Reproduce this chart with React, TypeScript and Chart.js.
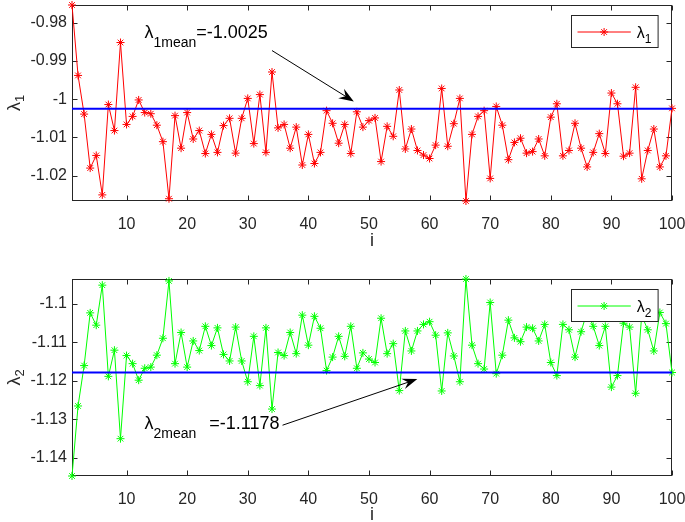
import React, { useEffect, useRef } from "react";
import { Chart, registerables } from "chart.js";

Chart.register(...registerables);

// ---------- data ----------
const indices: number[] = Array.from({ length: 100 }, (_, k) => k + 1);

const lambda1: number[] = [
  -0.9754, -0.9938, -1.0039, -1.018, -1.0147, -1.025, -1.0014, -1.0082, -0.9852, -1.0066,
  -1.0045, -1.0002, -1.0035, -1.0038, -1.0068, -1.0111, -1.026, -1.0043, -1.0128, -1.0035,
  -1.0104, -1.0082, -1.0142, -1.0092, -1.0139, -1.0069, -1.005, -1.0141, -1.005, -0.9998,
  -1.0116, -0.9988, -1.0139, -0.9929, -1.0075, -1.0066, -1.0128, -1.0073, -1.0172, -1.0092,
  -1.0168, -1.0139, -1.003, -1.0063, -1.0115, -1.0066, -1.0142, -1.0033, -1.0073, -1.0056,
  -1.0049, -1.0163, -1.0071, -1.0097, -0.9976, -1.013, -1.0078, -1.0134, -1.0146, -1.0155,
  -1.012, -0.9972, -1.0123, -1.0064, -0.9998, -1.0266, -1.0092, -1.0045, -1.003, -1.0207,
  -1.0019, -1.0068, -1.0158, -1.0113, -1.0102, -1.0141, -1.0137, -1.0104, -1.0148, -1.0047,
  -1.0012, -1.0148, -1.0134, -1.0063, -1.0128, -1.0177, -1.0139, -1.009, -1.0142, -0.9984,
  -1.0012, -1.0149, -1.0141, -0.9969, -1.0208, -1.0134, -1.0078, -1.0177, -1.0148, -1.0024,
];

const lambda2: number[] = [
  -1.1447, -1.1265, -1.116, -1.1023, -1.1055, -1.0951, -1.1188, -1.112, -1.135, -1.1134,
  -1.1155, -1.1198, -1.1167, -1.1164, -1.1133, -1.1089, -1.094, -1.1155, -1.1074, -1.1164,
  -1.1096, -1.1121, -1.1058, -1.1108, -1.1062, -1.1131, -1.1148, -1.106, -1.1148, -1.1202,
  -1.1084, -1.1212, -1.1062, -1.1273, -1.1126, -1.1134, -1.1074, -1.1129, -1.1029, -1.1107,
  -1.1032, -1.1063, -1.1173, -1.1138, -1.1084, -1.1136, -1.1058, -1.1167, -1.1127, -1.1143,
  -1.1152, -1.1037, -1.1129, -1.1103, -1.1225, -1.107, -1.1122, -1.107, -1.1053, -1.1046,
  -1.1081, -1.1226, -1.1075, -1.1135, -1.1202, -1.0935, -1.1107, -1.1155, -1.1169, -1.0996,
  -1.1181, -1.1133, -1.1042, -1.1088, -1.1098, -1.106, -1.1063, -1.1096, -1.1053, -1.1152,
  -1.1186, -1.1053, -1.1067, -1.1138, -1.1072, -1.102, -1.1058, -1.1108, -1.1058, -1.1216,
  -1.1186, -1.105, -1.106, -1.1232, -1.103, -1.1067, -1.1122, -1.1022, -1.1051, -1.1178,
];

const lambda1Mean = -1.0025;
const lambda2Mean = -1.1178;

const xTicks: number[] = [10, 20, 30, 40, 50, 60, 70, 80, 90, 100];
const y1Ticks: number[] = [-1.02, -1.01, -1, -0.99, -0.98];
const y2Ticks: number[] = [-1.14, -1.13, -1.12, -1.11, -1.1];

// ---------- styling ----------
const FONT = "'Liberation Sans', Arial, Helvetica, sans-serif";
const AXIS_COLOR = "#262626";

type Ann = {
  sub: string;
  tail: string;
  gap: number;
  textAt: [number, number];
  from: [number, number];
  to: [number, number];
};

type Panel = {
  values: number[];
  mean: number;
  color: string;
  yMin: number;
  yMax: number;
  yTicks: number[];
  labelSub: string;
  padTop: number;
  xAxisH: number;
  titlePadBottom: number;
  ann: Ann;
};

const panels: Panel[] = [
  {
    values: lambda1,
    mean: lambda1Mean,
    color: "#ff0000",
    yMin: -1.0266,
    yMax: -0.9754,
    yTicks: y1Ticks,
    labelSub: "1",
    padTop: 5,
    xAxisH: 60,
    titlePadBottom: 9,
    ann: {
      sub: "1mean",
      tail: "=-1.0025",
      gap: 0,
      textAt: [12.96, -0.9841],
      from: [34.0, -0.9873],
      to: [47.5, -1.0006],
    },
  },
  {
    values: lambda2,
    mean: lambda2Mean,
    color: "#00ff00",
    yMin: -1.1447,
    yMax: -1.0935,
    yTicks: y2Ticks,
    labelSub: "2",
    padTop: 18,
    xAxisH: 46,
    titlePadBottom: -4,
    ann: {
      sub: "2mean",
      tail: "=-1.1178",
      gap: 13,
      textAt: [12.96, -1.1325],
      from: [35.74, -1.1315],
      to: [57.98, -1.1195],
    },
  },
];

function drawParts(
  ctx: CanvasRenderingContext2D,
  x: number,
  y: number,
  parts: { text: string; size: number; dy: number; gap?: number }[]
) {
  let cx = x;
  for (const p of parts) {
    cx += p.gap || 0;
    ctx.font = `${p.size}px ${FONT}`;
    ctx.fillText(p.text, cx, y + p.dy);
    cx += ctx.measureText(p.text).width;
  }
  return cx;
}

function partsWidth(ctx: CanvasRenderingContext2D, parts: { text: string; size: number }[]) {
  let w = 0;
  for (const p of parts) {
    ctx.font = `${p.size}px ${FONT}`;
    w += ctx.measureText(p.text).width;
  }
  return w;
}

function drawStar(ctx: CanvasRenderingContext2D, x: number, y: number, r: number) {
  ctx.beginPath();
  ctx.moveTo(x - r, y);
  ctx.lineTo(x + r, y);
  ctx.moveTo(x, y - r);
  ctx.lineTo(x, y + r);
  const d = r * Math.SQRT1_2;
  ctx.moveTo(x - d, y - d);
  ctx.lineTo(x + d, y + d);
  ctx.moveTo(x - d, y + d);
  ctx.lineTo(x + d, y - d);
  ctx.stroke();
}

function makePlugin(p: Panel) {
  return {
    id: "matlabOverlay",
    beforeDatasetsDraw(chart: any) {
      const { ctx, chartArea: a, scales } = chart;
      ctx.save();
      ctx.strokeStyle = AXIS_COLOR;
      ctx.lineWidth = 1;
      const L = Math.round(a.left) + 0.5;
      const R = Math.round(a.right) - 0.5;
      const T = Math.round(a.top) + 0.5;
      const B = Math.round(a.bottom) - 0.5;
      ctx.strokeRect(L, T, R - L, B - T);
      ctx.beginPath();
      for (const v of xTicks) {
        const px = Math.round(scales.x.getPixelForValue(v)) + 0.5;
        ctx.moveTo(px, B);
        ctx.lineTo(px, B - 5);
        ctx.moveTo(px, T);
        ctx.lineTo(px, T + 5);
      }
      for (const v of p.yTicks) {
        const py = Math.round(scales.y.getPixelForValue(v)) + 0.5;
        ctx.moveTo(L, py);
        ctx.lineTo(L + 5, py);
        ctx.moveTo(R, py);
        ctx.lineTo(R - 5, py);
      }
      ctx.stroke();
      ctx.restore();
    },
    afterDraw(chart: any) {
      const { ctx, chartArea: a, scales } = chart;
      const sx = (v: number) => scales.x.getPixelForValue(v);
      const sy = (v: number) => scales.y.getPixelForValue(v);
      ctx.save();
      ctx.fillStyle = AXIS_COLOR;
      ctx.textBaseline = "alphabetic";
      ctx.textAlign = "left";

      // y-axis label with subscript
      const yl = [
        { text: "λ", size: 18, dy: 0 },
        { text: p.labelSub, size: 13, dy: 4 },
      ];
      const w = partsWidth(ctx, yl);
      ctx.save();
      ctx.translate(20, (a.top + a.bottom) / 2);
      ctx.rotate(-Math.PI / 2);
      drawParts(ctx, -w / 2, 0, yl);
      ctx.restore();

      // annotation text
      const ann = p.ann;
      ctx.fillStyle = "#000";
      drawParts(ctx, sx(ann.textAt[0]), sy(ann.textAt[1]), [
        { text: "λ", size: 18, dy: 0 },
        { text: ann.sub, size: 14, dy: 9 },
        { text: ann.tail, size: 18, dy: 0, gap: ann.gap },
      ]);

      // arrow
      const x0 = sx(ann.from[0]);
      const y0 = sy(ann.from[1]);
      const x1 = sx(ann.to[0]);
      const y1 = sy(ann.to[1]);
      const len = Math.hypot(x1 - x0, y1 - y0);
      const ux = (x1 - x0) / len;
      const uy = (y1 - y0) / len;
      const nx = -uy;
      const ny = ux;
      const HL = 15;
      const HW = 5.5;
      ctx.strokeStyle = "#000";
      ctx.lineWidth = 1;
      ctx.beginPath();
      ctx.moveTo(x0, y0);
      ctx.lineTo(x1 - ux * HL * 0.6, y1 - uy * HL * 0.6);
      ctx.stroke();
      ctx.beginPath();
      ctx.moveTo(x1, y1);
      ctx.lineTo(x1 - ux * HL + nx * HW, y1 - uy * HL + ny * HW);
      ctx.lineTo(x1 - ux * HL * 0.65, y1 - uy * HL * 0.65);
      ctx.lineTo(x1 - ux * HL - nx * HW, y1 - uy * HL - ny * HW);
      ctx.closePath();
      ctx.fill();

      // legend box
      const bw = 86.6;
      const bh = 32;
      const bx = Math.round(a.right - 14.4 - bw) + 0.5;
      const by = Math.round(a.top + 10) + 0.5;
      ctx.fillStyle = "#ffffff";
      ctx.fillRect(bx, by, bw, bh);
      ctx.strokeStyle = AXIS_COLOR;
      ctx.strokeRect(bx, by, bw, bh);
      const ly = by + 16.5;
      ctx.strokeStyle = p.color;
      ctx.lineWidth = 1;
      ctx.beginPath();
      ctx.moveTo(bx + 6, ly);
      ctx.lineTo(bx + 59.3, ly);
      ctx.stroke();
      drawStar(ctx, bx + 32.6, ly, 4);
      ctx.fillStyle = "#000";
      drawParts(ctx, bx + 65.3, by + 22.5, [
        { text: "λ", size: 16, dy: 0 },
        { text: p.labelSub, size: 12, dy: 4.5 },
      ]);
      ctx.restore();
    },
  };
}

function buildConfig(p: Panel): any {
  const tickFont = { family: FONT, size: 16 };
  return {
    type: "line",
    data: {
      datasets: [
        {
          data: [
            { x: indices[0], y: p.mean },
            { x: indices[indices.length - 1], y: p.mean },
          ],
          borderColor: "#0000ff",
          borderWidth: 2,
          pointRadius: 0,
          fill: false,
          order: 0,
        },
        {
          data: indices.map((i, k) => ({ x: i, y: p.values[k] })),
          borderColor: p.color,
          borderWidth: 1,
          pointStyle: "star",
          pointRadius: 4,
          pointBorderWidth: 1,
          pointBorderColor: p.color,
          pointBackgroundColor: p.color,
          tension: 0,
          fill: false,
          clip: false,
          order: 1,
        },
      ],
    },
    options: {
      responsive: false,
      animation: false,
      events: [],
      layout: { padding: { left: 0, right: 13, top: p.padTop, bottom: 0 } },
      plugins: {
        legend: { display: false },
        tooltip: { enabled: false },
        title: { display: false },
      },
      scales: {
        x: {
          type: "linear",
          min: 1,
          max: 100,
          afterBuildTicks: (s: any) => {
            s.ticks = xTicks.map((v) => ({ value: v }));
          },
          afterFit: (s: any) => {
            s.height = p.xAxisH;
            s.paddingLeft = 0;
            s.paddingRight = 0;
          },
          grid: { display: false, drawTicks: false },
          border: { display: false },
          ticks: {
            autoSkip: false,
            maxRotation: 0,
            padding: 14,
            color: AXIS_COLOR,
            font: tickFont,
            callback: (v: any) => String(v),
          },
          title: {
            display: true,
            text: "i",
            color: AXIS_COLOR,
            font: { family: FONT, size: 18 },
            padding: { top: 0, bottom: p.titlePadBottom },
          },
        },
        y: {
          type: "linear",
          min: p.yMin,
          max: p.yMax,
          afterBuildTicks: (s: any) => {
            s.ticks = p.yTicks.map((v) => ({ value: v }));
          },
          afterFit: (s: any) => {
            s.width = 72;
            s.paddingTop = 0;
            s.paddingBottom = 0;
          },
          grid: { display: false, drawTicks: false },
          border: { display: false },
          ticks: {
            autoSkip: false,
            padding: 5,
            color: AXIS_COLOR,
            font: tickFont,
            callback: (v: any) => String(+(+v).toFixed(3)),
          },
        },
      },
    },
    plugins: [makePlugin(p)],
  };
}

function PanelChart({ panel }: { panel: Panel }) {
  const ref = useRef<HTMLCanvasElement | null>(null);
  useEffect(() => {
    if (!ref.current) return;
    const chart = new Chart(ref.current, buildConfig(panel));
    return () => chart.destroy();
  }, [panel]);
  return <canvas ref={ref} width={685} height={261} style={{ display: "block", width: 685, height: 261 }} />;
}

export default function App() {
  return (
    <div style={{ position: "absolute", left: 0, top: 0, width: 685, height: 522, background: "#ffffff" }}>
      <PanelChart panel={panels[0]} />
      <PanelChart panel={panels[1]} />
    </div>
  );
}
